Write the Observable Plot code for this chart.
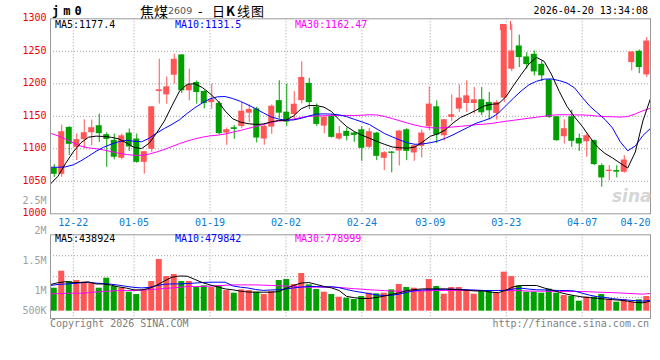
<!DOCTYPE html>
<html><head><meta charset="utf-8">
<script src="https://cdn.jsdelivr.net/npm/d3@7"></script>
<script src="https://cdn.jsdelivr.net/npm/@observablehq/plot@0.6"></script>
<style>
html,body{margin:0;padding:0;background:#fff;}
#chart{position:relative;width:660px;height:360px;overflow:hidden;font-family:"DejaVu Sans Mono","Liberation Mono",monospace;font-size:10px;}
#chart svg{position:absolute;left:0;top:0;}
.t{position:absolute;white-space:pre;line-height:12px;}
</style></head><body><div id="chart"></div>
<script>
// ---------- data ----------
const open = [1070,1060.8,1132.9,1102.2,1114,1124.7,1135.5,1121.7,1113,1085.4,
1124.2,1115,1079.2,1099.2,1188.1,1183,1213.2,1244.4,1189.2,1202,
1188.2,1171.2,1170,1124.2,1132.4,1134.4,1154.8,1161.4,1115,1133.4,
1174.1,1156.3,1152.7,1174.1,1200.6,1164,1134.9,1149.7,1115,1126.8,
1124.2,1129.3,1102.3,1124.2,1085.4,1095,1096.6,1129.3,1093.6,1103.8,
1134,1164.6,1120.1,1148.3,1161,1169.7,1169.7,1175.4,1171.3,1154.4,
1177.9,1222.4,1258.2,1241.3,1245.4,1230,1206,1149.3,1118.6,1149.3,
1116,1110.9,1112.5,1074.1,1065,1066.5,1063.9,1232.6,1250,1213.7];
const close = [1060.8,1126.3,1106.9,1114,1124.7,1132.4,1123.2,1114.5,1087,1120,
1102.8,1079.2,1095.6,1164.6,1190.7,1195.3,1237.7,1189.2,1197.8,1186.6,
1169.5,1175.5,1123.3,1129.3,1129.8,1157.8,1160.4,1116.6,1134.4,1165.5,
1154.8,1141,1168.5,1209.8,1171.1,1137.5,1148.7,1117.6,1123.2,1119.1,
1120.6,1100.7,1126.3,1088.4,1094,1093,1127.3,1096,1104.8,1124.2,
1168.7,1121.2,1144.7,1152.4,1178,1181.5,1175.4,1155.4,1158.5,1171.3,
1290.4,1250.5,1240.3,1229.5,1218.3,1212.2,1148.3,1112.5,1130.9,1111.5,
1107.4,1120.1,1075.7,1055.2,1067,1064,1082.7,1249,1225,1265.8];
const high = [1075.7,1136.5,1134,1122.7,1144.7,1144.2,1153.4,1124.7,1122.7,1122.7,
1130.4,1122.7,1096,1165,1237.7,1210.6,1245.4,1245,1222.4,1204.5,
1189.4,1199.5,1173,1132,1136,1171,1167.5,1164,1137,1167.5,
1204.7,1199.6,1187.9,1233.8,1208.2,1169,1148.7,1152.7,1134.4,1132,
1125.3,1134,1131.4,1125.3,1095.6,1096,1128.3,1131,1104.8,1128.8,
1195.3,1173.8,1145,1183,1198.4,1204.5,1194.3,1194.3,1186.6,1173.8,
1290.4,1291,1275,1248,1250.5,1235.2,1207,1149.3,1144.7,1159.5,
1122.7,1122.7,1113.5,1076.7,1074,1074,1089.5,1249,1252,1271];
const low = [1056,1056.2,1089.5,1081.8,1099.7,1104.8,1110,1071.6,1083,1083,
1096,1077.7,1061,1094.6,1168.7,1168.7,1199.4,1185,1173.8,1168.7,
1161.5,1160.7,1121.7,1105.4,1114.6,1130.9,1140.5,1109,1105.4,1122.2,
1146,1134.4,1143.6,1169,1160.4,1134.4,1123.2,1116.6,1113,1112,
1110,1080.8,1100.5,1081.8,1066.5,1063,1073.6,1081.8,1080.8,1086,
1127.8,1108.4,1112,1141.6,1156,1156,1153.4,1150.8,1144.2,1144.2,
1171,1218.8,1225,1222.4,1212.2,1203.5,1146.7,1111.5,1107.4,1102.3,
1096,1087,1074.1,1040.9,1051,1055.2,1062.4,1219.8,1215.7,1209.6];
const volume = [1012000,1760000,1305000,1349000,1276000,1232000,1012000,1452000,1085000,1012000,
836000,733000,939000,1305000,2273000,1525000,1613000,1305000,1305000,1041000,
1115000,1041000,1115000,909000,792000,939000,909000,836000,733000,865000,
1349000,1393000,1173000,1657000,1159000,953000,836000,733000,616000,572000,
513000,645000,792000,763000,792000,939000,1173000,1041000,1012000,895000,
1393000,1085000,748000,1041000,1041000,939000,748000,909000,909000,792000,
1716000,1525000,1115000,836000,836000,792000,968000,792000,689000,660000,
440000,616000,616000,733000,499000,396000,513000,396000,499000,645000];
const ma5 = [1046,1058,1077.8,1095.3,1109.2,1117.8,1119.5,1119,1117.7,1115.2,
1109,1102.1,1100.4,1108.7,1124.9,1142.9,1166.4,1188.9,1199.2,1200.1,
1194.2,1185,1173.9,1158.1,1146.2,1141.1,1138.7,1137.5,1138.1,1141.2,
1143.6,1144,1150.6,1161.5,1166.6,1166.5,1164.1,1157.3,1144.8,1134.2,
1126.6,1120.8,1116.3,1111.3,1106.8,1102.8,1101.6,1100.9,1102.8,1110.5,
1119.2,1123,1129.2,1139.7,1148.3,1153.4,1159.1,1165.5,1168.4,1169.4,
1180.5,1198.1,1214.6,1230.6,1240.6,1234.5,1213.5,1187.9,1165.2,1148.9,
1134.8,1118.1,1102.9,1092.9,1085.9,1078,1070.4,1095.1,1142.9,1177.4];
const ma10 = [1071.6,1071.6,1072.2,1075.4,1081.4,1088.6,1096.2,1102.5,1107.1,1110.9,
1113.1,1111.6,1110.8,1116.2,1124.4,1131.3,1137.6,1144.8,1154.5,1163.1,
1170.6,1176.9,1180,1180.4,1177.3,1173,1167.6,1161.8,1155.4,1149.3,
1145.9,1143.9,1144.4,1146.9,1150.4,1153.3,1153.7,1153.4,1152.2,1149.5,
1145.3,1141.4,1137.3,1130.2,1123.4,1118.3,1113.5,1109.2,1106.9,1107.5,
1109.3,1111.9,1116.3,1121.4,1127.4,1133.2,1139.1,1143.1,1147.3,1155.2,
1166.8,1178.4,1189.2,1198.5,1203.9,1207.2,1207.4,1204.9,1201.2,1193.7,
1179.3,1165.6,1155.4,1145.2,1132,1111.1,1096.9,1104.4,1120.4,1131.5];
const ma30 = [1123.7,1119.9,1114.8,1109.1,1104.1,1101.4,1100.2,1098.2,1095.7,1093.2,
1091.2,1090,1090.1,1091.9,1095.2,1099,1103.5,1108.1,1111.9,1115.2,
1117.9,1119.9,1121,1122.8,1125.5,1128.2,1131.3,1134.4,1137.4,1140.7,
1142.6,1143.6,1145.7,1148.3,1149.9,1150.6,1150.8,1151.1,1151.3,1151.3,
1151.3,1151.6,1152.4,1152,1149.7,1146.5,1143.1,1139.6,1136.4,1133.9,
1132.5,1132,1132.6,1133.6,1134.6,1135.8,1137.1,1137.8,1138.9,1140.7,
1142.4,1143.9,1145.5,1147.1,1148.6,1150.1,1151.7,1152.4,1152.4,1152.1,
1152.1,1151.5,1150.3,1149.5,1149.3,1148.8,1149.7,1153.7,1158.5,1162.47];
const vma5 = [1175000,1254000,1298000,1263000,1263000,1289000,1197000,1197000,1144000,1069000,
1016000,937000,937000,1003000,1144000,1329000,1496000,1549000,1540000,1399000,
1258000,1157000,1069000,981000,942000,880000,845000,836000,836000,836000,
862000,999000,1131000,1236000,1263000,1179000,1091000,1025000,911000,651000,
594000,554000,563000,607000,669000,748000,814000,911000,955000,981000,
981000,981000,981000,955000,937000,915000,889000,893000,836000,814000,
933000,1078000,1131000,1131000,1131000,1021000,933000,827000,748000,682000,
629000,598000,563000,537000,506000,484000,440000,387000,370000,438924];
const vma10 = [1131000,1179000,1197000,1219000,1250000,1272000,1236000,1214000,1184000,1144000,
1091000,1047000,1025000,1047000,1126000,1184000,1201000,1201000,1219000,1236000,
1263000,1276000,1276000,1276000,1113000,1056000,1021000,955000,915000,933000,
946000,977000,1025000,1060000,1087000,1087000,1065000,1078000,1034000,955000,
880000,827000,770000,713000,691000,704000,757000,836000,906000,937000,
937000,955000,968000,968000,959000,942000,928000,911000,911000,911000,
920000,981000,1012000,972000,942000,937000,924000,911000,911000,889000,
792000,704000,638000,607000,554000,515000,488000,466000,444000,479842];
const vma30 = [761000,774000,788000,792000,792000,818000,845000,867000,889000,906000,
911000,911000,928000,946000,972000,1003000,1021000,1052000,1087000,1087000,
1091000,1104000,1122000,1140000,1157000,1157000,1157000,1157000,1144000,1135000,
1118000,1104000,1087000,1069000,1056000,1056000,1056000,1060000,1047000,1016000,
990000,968000,942000,924000,906000,889000,880000,880000,884000,893000,
902000,911000,911000,911000,911000,911000,911000,911000,911000,911000,
911000,911000,902000,884000,880000,880000,871000,867000,867000,867000,
867000,854000,836000,827000,818000,801000,783000,766000,752000,778999];
const dateTickIndex = [3,11,21,31,41,50,60,70,79];
const dateTickLabels = ["12-22","01-05","01-19","02-02","02-24","03-09","03-23","04-07","04-20"];
const priceTicks = [1000,1050,1100,1150,1200,1250,1300];
const volTickValues = [2500000,2000000,1500000,1000000,500000];
const volTickLabels = ["2.5M","2M","1.5M","1M","500K"];
const legendPrice = {ma5:"1177.4", ma10:"1131.5", ma30:"1162.47"};
const legendVol = {ma5:"438924", ma10:"479842", ma30:"778999"};

// ---------- styling ----------
const RED = "#ff5555", GREEN = "#00a000", GRID = "#a0a0a0", FRAME = "#999";
const BLUE_DATE = "#0a7bd0";
const FONT = "DejaVu Sans Mono, Liberation Mono, monospace";
const N = open.length;
const candles = open.map((o, i) => ({i, open: o, close: close[i], high: high[i], low: low[i], vol: volume[i], col: close[i] >= o ? RED : GREEN}));
// Sina positions grid lines and MA lines on an (N-1)-slot grid, candles on an N-slot grid
const gx = j => j * N / (N - 1) - 0.5;
const xs = {type: "linear", domain: [-0.5, N - 0.5], axis: null};
const W = 660, H = 360;
const chart = document.getElementById("chart");
const lineOpts = (arr, color) => Plot.line(arr, {x: (d, i) => gx(i), y: d => d, stroke: color, strokeWidth: 1, clip: true});
const dateTicks = dateTickIndex.map((i, k) => ({i, label: dateTickLabels[k]}));

// ---------- main (price) panel ----------
const yTop = 18.3, yBot = 213.3;
const main = Plot.plot({
  width: W, height: H, marginLeft: 50, marginRight: 10, marginTop: yTop, marginBottom: H - yBot,
  x: xs, y: {domain: [1000, 1300], axis: null},
  style: {background: "transparent", overflow: "visible"},
  marks: [
    Plot.ruleY(priceTicks.slice(1, -1), {stroke: GRID, strokeDasharray: "1,2"}),
    Plot.ruleX(dateTicks.slice(0, -1), {x: d => gx(d.i), stroke: GRID, strokeDasharray: "1,2"}),
    Plot.ruleX(candles, {x: "i", y1: "low", y2: "high", stroke: "col", strokeWidth: 1}),
    Plot.rect(candles, {x1: d => d.i - 0.4, x2: d => d.i + 0.4, y1: "open", y2: "close", fill: "col"}),
    lineOpts(ma30, "#ff00ff"),
    lineOpts(ma10, "#0000ff"),
    lineOpts(ma5, "#000000"),
    Plot.frame({stroke: FRAME}),
    Plot.text(priceTicks, {y: d => d, text: d => String(d), frameAnchor: "left", dx: -4, dy: -1, textAnchor: "end", lineAnchor: "middle", fill: "#ee0000", fontFamily: FONT, fontSize: 10}),
    Plot.text(dateTicks.slice(0, -1), {x: d => gx(d.i), text: "label", frameAnchor: "bottom", dy: 8.5, lineAnchor: "middle", fill: BLUE_DATE, fontFamily: FONT, fontSize: 10}),
    Plot.text(dateTicks.slice(-1), {x: d => gx(d.i), text: "label", frameAnchor: "bottom", dy: 8.5, lineAnchor: "middle", textAnchor: "end", fill: BLUE_DATE, fontFamily: FONT, fontSize: 10})
  ]
});
chart.appendChild(main);

// ---------- volume panel ----------
const vTop = 234.3, vBot = 318, vBase = 310.7, perPx = 44000;
const vDomain = [-(vBot - vBase) * perPx, (vBase - vTop) * perPx];
const vGrid = [1, 2, 3].map(k => vDomain[0] + (vDomain[1] - vDomain[0]) * k / 4);
const vol = Plot.plot({
  width: W, height: H, marginLeft: 50, marginRight: 10, marginTop: vTop, marginBottom: H - vBot,
  x: xs, y: {domain: vDomain, axis: null},
  style: {background: "transparent", overflow: "visible"},
  marks: [
    Plot.ruleY(vGrid, {stroke: GRID, strokeDasharray: "1,2"}),
    Plot.ruleX(dateTicks.slice(0, -1), {x: d => gx(d.i), stroke: GRID, strokeDasharray: "1,2"}),
    Plot.rect(candles, {x1: d => d.i - 0.4, x2: d => d.i + 0.4, y1: 0, y2: "vol", fill: "col"}),
    lineOpts(vma30, "#ff00ff"),
    lineOpts(vma10, "#0000ff"),
    lineOpts(vma5, "#000000"),
    Plot.frame({stroke: FRAME})
  ]
});
chart.appendChild(vol);

// ---------- volume axis labels (Sina's own label scale) ----------
const volLab = Plot.plot({
  width: W, height: H, marginLeft: 50, marginRight: 10, marginTop: 199.3, marginBottom: H - 310.7,
  x: xs, y: {domain: [669000, 2520000], clamp: true, axis: null},
  style: {background: "transparent", overflow: "visible"},
  marks: [
    Plot.text(volTickValues, {y: d => d, text: (d, i) => volTickLabels[i], frameAnchor: "left", dx: -4, textAnchor: "end", lineAnchor: "middle", fill: "#a0a0a0", fontFamily: FONT, fontSize: 10})
  ]
});
chart.appendChild(volLab);

// ---------- titles, legends, footer ----------
function addText(html, css) {
  const d = document.createElement("div");
  d.className = "t";
  d.innerHTML = html;
  Object.assign(d.style, css);
  chart.appendChild(d);
  return d;
}
const CJK = "'Noto Sans CJK SC', sans-serif";
addText("jm0", {left: "52px", top: "5px", fontWeight: "bold", fontSize: "12px", letterSpacing: "4px", color: "#000"});
addText("焦煤", {left: "140px", top: "3px", fontFamily: CJK, fontSize: "14px", lineHeight: "16px", color: "#000"});
addText("2609", {left: "168px", top: "5px", fontFamily: "'DejaVu Sans', sans-serif", fontSize: "9.5px", color: "#555"});
addText("-", {left: "198px", top: "3px", fontFamily: CJK, fontSize: "13px", lineHeight: "16px", color: "#000"});
addText("日", {left: "212px", top: "3px", fontFamily: CJK, fontSize: "13px", lineHeight: "16px", color: "#000"});
addText("K", {left: "226px", top: "3px", fontFamily: CJK, fontSize: "13px", fontWeight: "bold", lineHeight: "16px", color: "#000"});
addText("线图", {left: "237px", top: "3px", fontFamily: CJK, fontSize: "13px", lineHeight: "16px", letterSpacing: "1px", color: "#000"});
addText("2026-04-20 13:34:08", {right: "12px", top: "5px", color: "#000"});
addText("MA5:" + legendPrice.ma5, {left: "55px", top: "18.5px", color: "#000"});
addText("MA10:" + legendPrice.ma10, {left: "175px", top: "18.5px", color: "#0000ff"});
addText("MA30:" + legendPrice.ma30, {left: "295px", top: "18.5px", color: "#ff00ff"});
addText("MA5:" + legendVol.ma5, {left: "55px", top: "232.5px", color: "#000"});
addText("MA10:" + legendVol.ma10, {left: "175px", top: "232.5px", color: "#0000ff"});
addText("MA30:" + legendVol.ma30, {left: "295px", top: "232.5px", color: "#ff00ff"});
addText("Copyright 2026 SINA.COM", {left: "50px", top: "318px", color: "#808080"});
addText("http://finance.sina.com.cn", {right: "11px", top: "318px", color: "#808080"});
addText("sina", {left: "612px", top: "186px", fontFamily: "DejaVu Sans", fontStyle: "italic", fontWeight: "bold", fontSize: "17px", lineHeight: "20px", color: "#d6d6d6"});
// small red marker at the top right of the price panel
const m1 = document.createElement("div");
Object.assign(m1.style, {position: "absolute", left: "500px", top: "24px", width: "6px", height: "6px", background: RED});
chart.appendChild(m1);
const m2 = document.createElement("div");
Object.assign(m2.style, {position: "absolute", left: "510px", top: "21px", width: "1px", height: "9px", background: RED});
chart.appendChild(m2);
</script></body></html>
